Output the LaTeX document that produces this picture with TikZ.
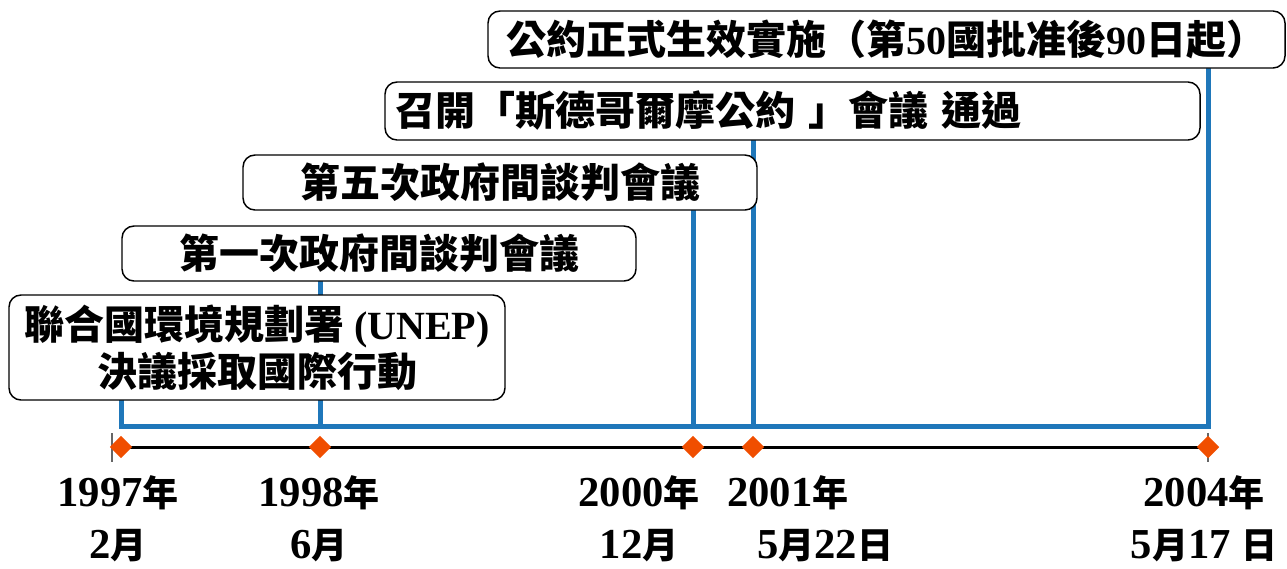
\documentclass[tikz,border=0pt]{standalone}
\usepackage{fontspec}
\setmainfont{Liberation Serif}
\newfontfamily\cjk{Noto Sans CJK TC}
\usetikzlibrary{shapes.geometric}
\definecolor{tlblue}{RGB}{31,119,186}
\definecolor{tlorange}{RGB}{240,78,0}
\newcommand{\zh}[1]{{\cjk\bfseries #1}}
\newcommand{\zhd}[1]{{\cjk\bfseries\fontsize{27}{39}\selectfont #1}}
\begin{document}
\begin{tikzpicture}[x=0.75pt,y=-0.75pt,
  evbox/.style={draw=black,line width=1.1pt,rounded corners=9pt,fill=white,
    inner sep=0pt,align=center,font=\fontsize{30}{35}\selectfont\bfseries},
  bluelink/.style={draw=tlblue,line width=3.75pt,line join=miter},
  axisline/.style={draw=black,line width=2.25pt},
  endtick/.style={draw=black!60,line width=0.8pt},
  marker/.style={diamond,fill=tlorange,inner sep=0pt,minimum width=17pt,minimum height=17pt},
  datelbl/.style={align=center,inner sep=0pt,font=\fontsize{32}{39}\selectfont\bfseries}]
\useasboundingbox (0,0) rectangle (1287,568);
% coordinates
\coordinate (b1) at (121,426);
\coordinate (b2) at (320,426);
\coordinate (b3) at (693,426);
\coordinate (b4) at (753,426);
\coordinate (b5) at (1208,426);
\coordinate (t0) at (112,447);
\coordinate (t0a) at (112,433);
\coordinate (t0b) at (112,462);
\coordinate (t5a) at (1208,433);
\coordinate (t5b) at (1208,462);
\path (257,347.5) coordinate (c1) (379,253.5) coordinate (c2) (500,182.5) coordinate (c3)
      (792.5,111) coordinate (c4) (886.5,39.5) coordinate (c5);
% blue links drawn first
\draw[bluelink] (121,295) -- (b1) -- (b5) -- (1208,68);
\draw[bluelink] (320,281) -- (b2);
\draw[bluelink] (693,210) -- (b3);
\draw[bluelink] (753,140) -- (b4);
% boxes
\node[evbox,minimum width=385.5pt,minimum height=41.25pt] (e2) at (c2) {\zh{第一次政府間談判會議}};
\node[evbox,minimum width=372pt,minimum height=78.75pt] (e1) at (c1)
  {\zh{聯合國環境規劃署} (UNEP)\\\zh{決議採取國際行動}};
\node[evbox,minimum width=385.5pt,minimum height=41.25pt] (e3) at (c3) {\zh{第五次政府間談判會議}};
\node[evbox,minimum height=43.5pt,inner xsep=7.5pt,text width=596.25pt,align=left] (e4) at (c4)
  {\zh{召開「斯德哥爾摩公約} \zh{」會議} \zh{通過}};
\node[evbox,minimum width=597.75pt,minimum height=42.75pt] (e5) at (c5)
  {\zh{公約正式生效實施（第}50\zh{國批准後}90\zh{日起）}};
% axis
\draw[endtick] (t0a) -- (t0b);
\draw[endtick] (t5a) -- (t5b);
\draw[axisline] (t0) -- (1208,447);
\node[marker] (d1) at (121,447) {};
\node[marker] (d2) at (320,447) {};
\node[marker] (d3) at (693,447) {};
\node[marker] (d4) at (753,447) {};
\node[marker] (d5) at (1208,447) {};
% date labels
\node[datelbl] (l1) at (118,519) {1997\zhd{年}\\2\zhd{月}};
\node[datelbl] (l2) at (319,519) {1998\zhd{年}\\6\zhd{月}};
\node[datelbl] (l3) at (639,519) {2000\zhd{年}\\12\zhd{月}};
\node[datelbl,align=left,anchor=west] (l4) at (727,519) {2001\zhd{年}\\\hspace*{22.5pt}5\zhd{月}22\zhd{日}};
\node[datelbl] (l5) at (1204,519) {2004\zhd{年}\\5\zhd{月}17 \zhd{日}};
\end{tikzpicture}
\end{document}
